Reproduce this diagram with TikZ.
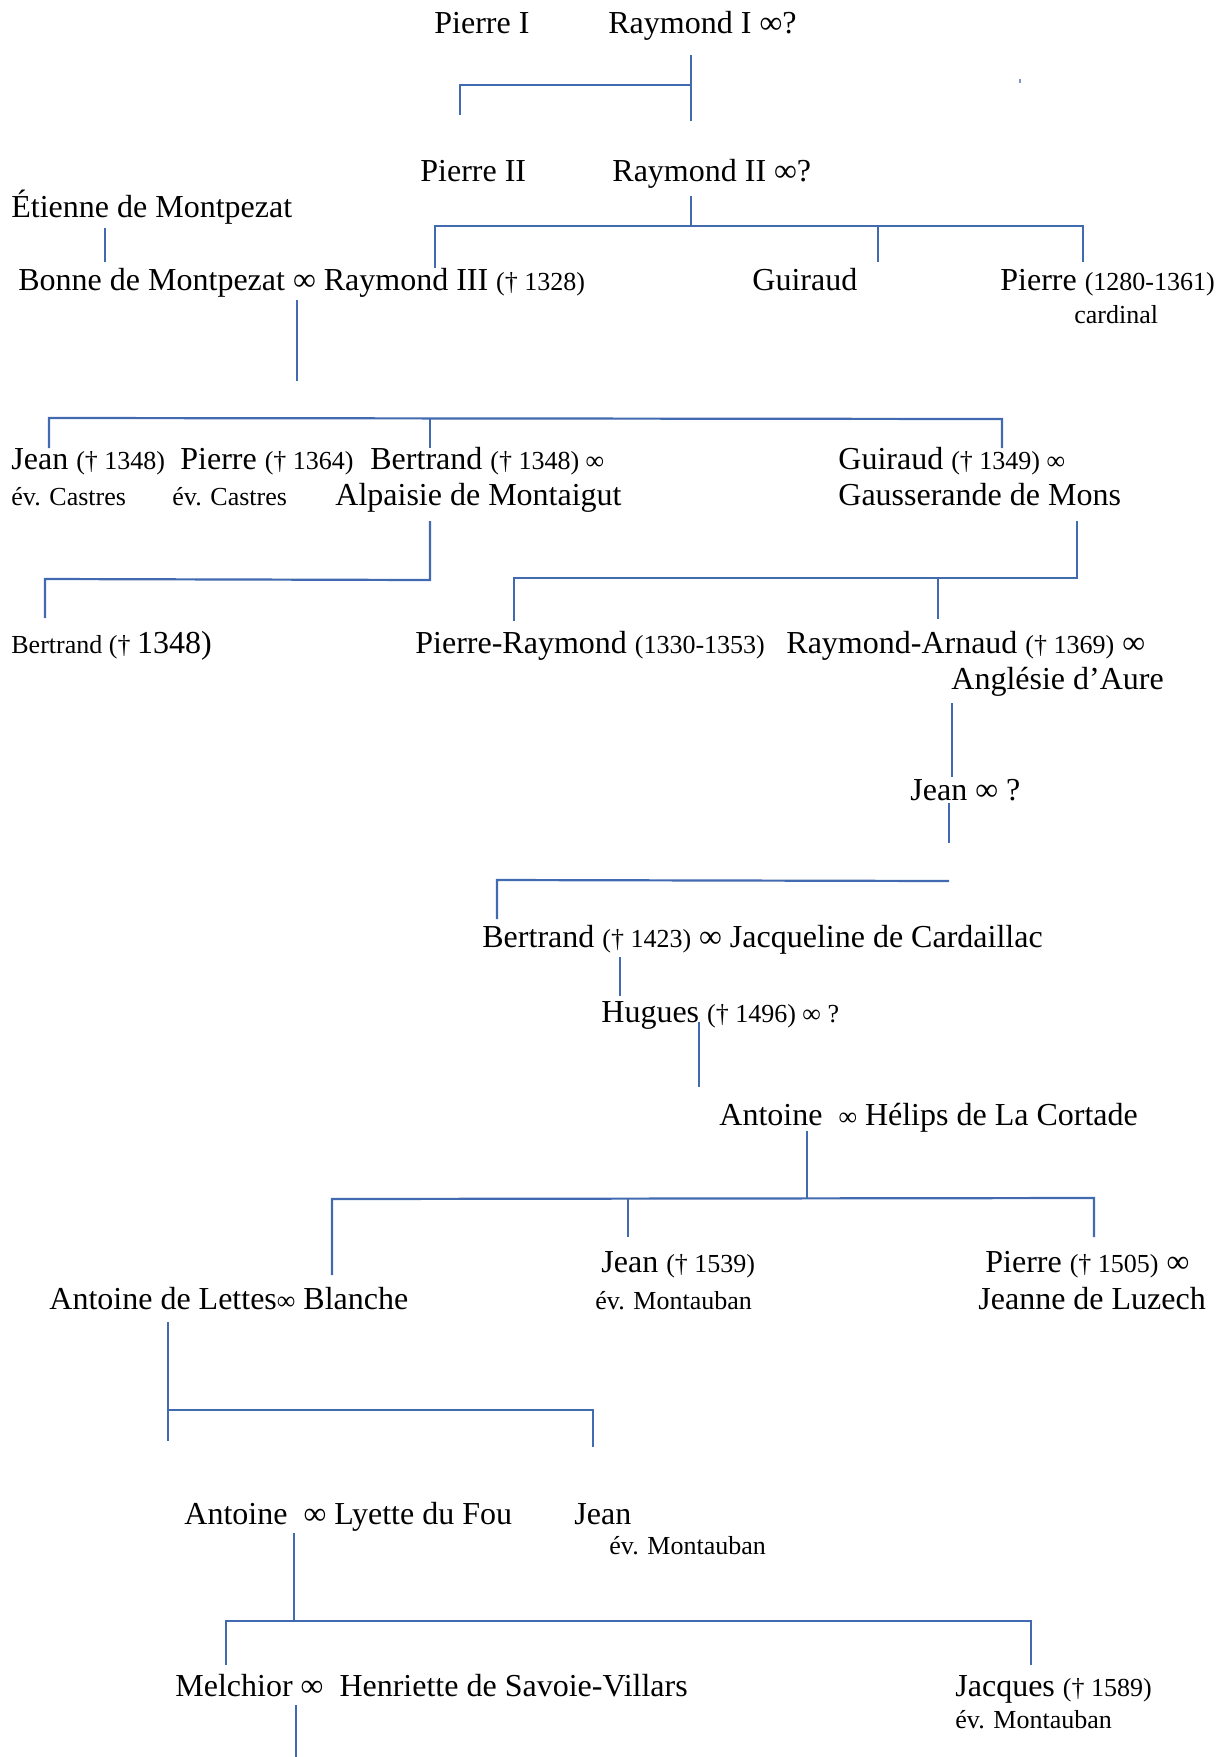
\documentclass[tikz,border=0pt]{standalone}
\usepackage{fontspec}
\setmainfont{Liberation Serif}
\newcommand{\bigf}{\fontsize{16}{19}\selectfont}
\newcommand{\smf}{\fontsize{13}{15}\selectfont}
\definecolor{lineblue}{RGB}{66,106,176}
\begin{document}
\begin{tikzpicture}[x=0.5pt,y=-0.5pt,
  nm/.style={anchor=base west,inner sep=0pt,font=\bigf,yshift=-1.3pt},
  sm/.style={anchor=base west,inner sep=0pt,font=\smf,yshift=-1pt},
  tree/.style={draw=lineblue,line width=1.1pt}]
\useasboundingbox (0,0) rectangle (1231,1757);
% ---------- texts ----------
\node[nm] (p1) at (434,31) {Pierre I};
\node[nm] (r1) at (608,31) {Raymond I ∞?};
\node[nm] (p2) at (420,179) {Pierre II};
\node[nm] (r2) at (612,179) {Raymond II ∞?};
\node[nm] (et) at (11,215) {Étienne de Montpezat};
\node[nm] (r3) at (18,288) {Bonne de Montpezat ∞ Raymond III {\smf(† 1328)}};
\node[nm] (gu) at (752,288) {Guiraud};
\node[nm] (pc) at (1000,288) {Pierre {\smf(1280-1361)}};
\node[sm] (card) at (1074,321) {cardinal};
\node[nm] (je1) at (11,467) {Jean {\smf(† 1348)}};
\node[nm] (pi1) at (180,467) {Pierre {\smf(† 1364)}};
\node[nm] (be1) at (370,467) {Bertrand {\smf(† 1348) ∞}};
\node[nm] (gu2) at (838,467) {Guiraud {\smf(† 1349) ∞}};
\node[sm] (ev1) at (11,503) {év. Castres};
\node[sm] (ev2) at (172,503) {év. Castres};
\node[nm] (alp) at (335,503) {Alpaisie de Montaigut};
\node[nm] (gau) at (838,503) {Gausserande de Mons};
\node[nm] (be2) at (11,651) {\smf Bertrand († \bigf 1348)};
\node[nm] (pr) at (415,651) {Pierre-Raymond {\smf(1330-1353)}};
\node[nm] (ra) at (786,651) {Raymond-Arnaud {\smf(† 1369)} ∞};
\node[nm] (ang) at (951,687) {Anglésie d’Aure};
\node[nm] (je2) at (910,798) {Jean ∞ ?};
\node[nm] (be3) at (482,945) {Bertrand {\smf(† 1423)} ∞ Jacqueline de Cardaillac};
\node[nm] (hu) at (601,1020) {Hugues {\smf(† 1496) ∞ ?}};
\node[nm] (an1) at (719,1123) {Antoine\ \ {\smf∞} Hélips de La Cortade};
\node[nm] (an2) at (49,1307) {Antoine de Lettes{\smf∞} Blanche};
\node[nm] (je3) at (601,1270) {Jean {\smf(† 1539)}};
\node[sm] (ev3) at (595,1307) {év. Montauban};
\node[nm] (pi2) at (985,1270) {Pierre {\smf(† 1505)} ∞};
\node[nm] (jl) at (978,1307) {Jeanne de Luzech};
\node[nm] (an3) at (184,1522) {Antoine\ \ ∞ Lyette du Fou};
\node[nm] (je4) at (574,1522) {Jean};
\node[sm] (ev4) at (609,1552) {év. Montauban};
\node[nm] (me) at (175,1694) {Melchior ∞\ \ Henriette de Savoie-Villars};
\node[nm] (ja) at (955,1694) {Jacques {\smf(† 1589)}};
\node[sm] (ev5) at (955,1726) {év. Montauban};
% stray mark
\fill[lineblue!70] (1019,79) rectangle (1021,83);
% ---------- coordinates ----------
\coordinate (a1) at (691,55);  \coordinate (a2) at (691,121);
\coordinate (a3) at (691,85);  \coordinate (a4) at (460,85);
\coordinate (a5) at (460,115);
\coordinate (b1) at (105,228); \coordinate (b2) at (105,262);
\coordinate (c1) at (691,196); \coordinate (c2) at (691,226);
\coordinate (c3) at (435,226); \coordinate (c4) at (1083,226);
\coordinate (c5) at (435,268); \coordinate (c6) at (878,226);
\coordinate (c7) at (878,262); \coordinate (c8) at (1083,262);
\coordinate (d1) at (297,300); \coordinate (d2) at (297,381);
\coordinate (e1) at (49,418);  \coordinate (e2) at (1002,419);
\coordinate (e3) at (49,448);  \coordinate (e4) at (430,418);
\coordinate (e5) at (430,448); \coordinate (e6) at (1002,448);
\coordinate (f1) at (430,521); \coordinate (f2) at (430,580);
\coordinate (f3) at (45,579);  \coordinate (f4) at (45,618);
\coordinate (g1) at (1077,521); \coordinate (g2) at (1077,578);
\coordinate (g3) at (514,578); \coordinate (g4) at (514,621);
\coordinate (g5) at (938,578); \coordinate (g6) at (938,619);
\coordinate (h1) at (952,703); \coordinate (h2) at (952,777);
\coordinate (i1) at (949,803); \coordinate (i2) at (949,843);
\coordinate (i5) at (949,881);
\coordinate (i3) at (497,880); \coordinate (i4) at (497,919);
\coordinate (j1) at (620,957); \coordinate (j2) at (620,996);
\coordinate (k1) at (699,1022); \coordinate (k2) at (699,1087);
\coordinate (l1) at (807,1131); \coordinate (l2) at (807,1198);
\coordinate (l3) at (332,1199); \coordinate (l4) at (1094,1198);
\coordinate (l5) at (332,1275); \coordinate (l6) at (628,1199);
\coordinate (l7) at (628,1237); \coordinate (l8) at (1094,1237);
\coordinate (m1) at (168,1322); \coordinate (m2) at (168,1441);
\coordinate (m3) at (168,1410); \coordinate (m4) at (593,1410);
\coordinate (m5) at (593,1447);
\coordinate (n1) at (294,1533); \coordinate (n2) at (294,1621);
\coordinate (n3) at (226,1621); \coordinate (n4) at (1031,1621);
\coordinate (n5) at (226,1665); \coordinate (n6) at (1031,1665);
\coordinate (o1) at (296,1705); \coordinate (o2) at (296,1757);
% ---------- connectors ----------
\draw[tree] (a1) -- (a2);
\draw[tree] (a5) -- (a4) -- (a3);
\draw[tree] (b1) -- (b2);
\draw[tree] (c1) -- (c2);
\draw[tree] (c5) -- (c3) -- (c4) -- (c8);
\draw[tree] (c6) -- (c7);
\draw[tree] (d1) -- (d2);
\draw[tree] (e3) -- (e1) -- (e2) -- (e6);
\draw[tree] (e4) -- (e5);
\draw[tree] (f1) -- (f2) -- (f3) -- (f4);
\draw[tree] (g1) -- (g2) -- (g3) -- (g4);
\draw[tree] (g5) -- (g6);
\draw[tree] (h1) -- (h2);
\draw[tree] (i1) -- (i2);
\draw[tree] (i5) -- (i3) -- (i4);
\draw[tree] (j1) -- (j2);
\draw[tree] (k1) -- (k2);
\draw[tree] (l1) -- (l2);
\draw[tree] (l5) -- (l3) -- (l4) -- (l8);
\draw[tree] (l6) -- (l7);
\draw[tree] (m1) -- (m2);
\draw[tree] (m3) -- (m4) -- (m5);
\draw[tree] (n1) -- (n2);
\draw[tree] (n5) -- (n3) -- (n4) -- (n6);
\draw[tree] (o1) -- (o2);
\end{tikzpicture}
\end{document}
